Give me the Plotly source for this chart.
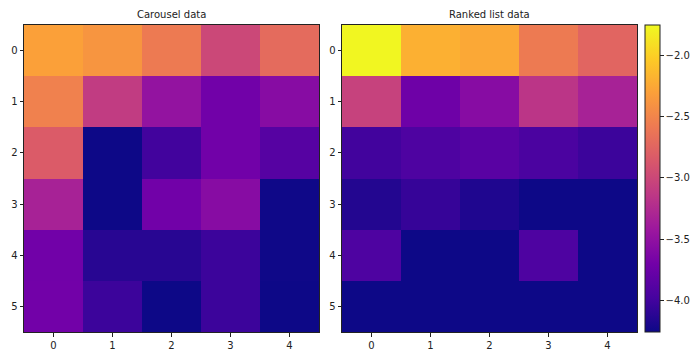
import plotly.graph_objects as go

# heatmap values (rows 0..5, cols 0..4)
carousel = [
    [-2.30, -2.38, -2.58, -3.00, -2.70],
    [-2.53, -3.10, -3.48, -3.71, -3.56],
    [-2.83, -4.26, -4.00, -3.71, -3.88],
    [-3.33, -4.26, -3.71, -3.56, -4.25],
    [-3.71, -4.13, -4.13, -4.03, -4.25],
    [-3.70, -4.03, -4.26, -4.03, -4.26],
]
ranked = [
    [-1.77, -2.20, -2.25, -2.58, -2.75],
    [-3.05, -3.73, -3.56, -3.16, -3.33],
    [-4.00, -3.93, -3.86, -3.95, -4.03],
    [-4.15, -4.06, -4.17, -4.26, -4.26],
    [-3.93, -4.26, -4.26, -3.93, -4.26],
    [-4.26, -4.26, -4.26, -4.26, -4.26],
]
titles = ["Carousel data", "Ranked list data"]
cols = [0, 1, 2, 3, 4]
rows = [0, 1, 2, 3, 4, 5]
cbar_ticks = [-2.0, -2.5, -3.0, -3.5, -4.0]
cbar_labels = ["\u22122.0", "\u22122.5", "\u22123.0", "\u22123.5", "\u22124.0"]

# the page body has an 8px margin, so the figure is drawn 8px smaller
# and all pixel positions below are shifted by that offset
OFF = 8
W, H = 700 - OFF, 360 - OFF
L, R, T, B = 24 - OFF, 700 - 637, 25 - OFF, 360 - 332
pw = W - L - R
ph = H - T - B


def px(x):
    # page x pixel -> paper fraction of the plot area
    return (x - OFF - L) / pw


fig = go.Figure()
fig.add_trace(go.Heatmap(z=carousel, x=cols, y=rows, coloraxis="coloraxis",
                         xaxis="x", yaxis="y"))
fig.add_trace(go.Heatmap(z=ranked, x=cols, y=rows, coloraxis="coloraxis",
                         xaxis="x2", yaxis="y2"))

axis_style = dict(showline=True, mirror=True, linecolor="#222", linewidth=1,
                  ticks="outside", ticklen=3.5, tickcolor="#222",
                  showgrid=False, zeroline=False, automargin=False,
                  tickfont=dict(size=10, color="#222"))

fig.update_layout(
    width=W, height=H,
    margin=dict(l=L, r=R, t=T, b=B, autoexpand=False),
    paper_bgcolor="white", plot_bgcolor="white",
    font=dict(family="DejaVu Sans", size=10, color="#222"),
    xaxis=dict(domain=[0, px(319)], anchor="y", range=[-0.5, 4.5],
               tickvals=cols, **axis_style),
    yaxis=dict(domain=[0, 1], anchor="x", range=[5.5, -0.5],
               tickvals=rows, **axis_style),
    xaxis2=dict(domain=[px(342), 1], anchor="y2", range=[-0.5, 4.5],
                tickvals=cols, **axis_style),
    yaxis2=dict(domain=[0, 1], anchor="x2", range=[5.5, -0.5],
                tickvals=rows, **axis_style),
    coloraxis=dict(
        colorscale="Plasma", cmin=-4.26, cmax=-1.75,
        colorbar=dict(x=px(645), xanchor="left", xpad=0, ypad=0,
                      thickness=15, thicknessmode="pixels",
                      len=1, lenmode="fraction", y=0.5,
                      yanchor="middle", outlinecolor="#222", outlinewidth=1,
                      ticks="outside", ticklen=3.5, tickcolor="#222",
                      tickvals=cbar_ticks, ticktext=cbar_labels,
                      tickfont=dict(size=10, color="#222")),
    ),
    showlegend=False,
)

for i, t in enumerate(titles):
    xc = px((24 + 319) / 2) if i == 0 else px((342 + 637) / 2)
    fig.add_annotation(text=t, x=xc, y=1 + 10 / ph, xref="paper", yref="paper",
                       showarrow=False, font=dict(size=10, color="#222"),
                       xanchor="center", yanchor="middle")

fig.write_html("out.html")
